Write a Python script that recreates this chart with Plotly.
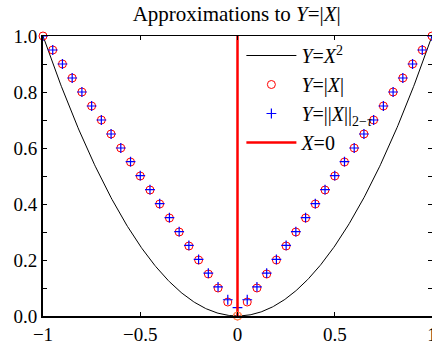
import plotly.graph_objects as go
import numpy as np

# sample grid on [-1, 1]
x_pts = [round(-1 + 0.05 * i, 2) for i in range(41)]
# Y = |X| at the grid points
y_abs = [abs(v) for v in x_pts]
# smoothed norm ||X||_{2-tau}, slightly above |X| near zero
y_norm_half = [0.030, 0.058, 0.104, 0.153, 0.202, 0.252, 0.301, 0.351, 0.401, 0.451,
               0.501, 0.551, 0.600, 0.650, 0.700, 0.750, 0.800, 0.850, 0.900, 0.950, 1.000]
y_norm = y_norm_half[:0:-1] + y_norm_half

# smooth parabola Y = X^2
x_curve = np.linspace(-1, 1, 401)
y_curve = x_curve ** 2

# vertical line X = 0
x_zero = [0, 0]
y_zero = [0, 1]

x_ticks = [-1, -0.5, 0, 0.5, 1]
x_tick_text = ["\u22121", "\u22120.5", "0", "0.5", "1"]
y_ticks = [round(0.1 * i, 1) for i in range(11)]
y_tick_text = [f"{v:.1f}" if i % 2 == 0 else "" for i, v in enumerate(y_ticks)]

FONT = "Liberation Serif, Times New Roman, serif"

fig = go.Figure()
fig.add_trace(go.Scatter(x=x_curve, y=y_curve, mode="lines",
                         line=dict(color="black", width=1),
                         name="<i>Y</i>=<i>X</i><sup>2</sup>"))
fig.add_trace(go.Scatter(x=x_pts, y=y_abs, mode="markers",
                         marker=dict(symbol="circle-open", size=8,
                                     line=dict(color="red", width=1), color="red"),
                         cliponaxis=False,
                         name="<i>Y</i>=|<i>X</i>|"))
fig.add_trace(go.Scatter(x=x_pts, y=y_norm, mode="markers",
                         marker=dict(symbol="cross-thin-open", size=7,
                                     line=dict(color="blue", width=1.2), color="blue"),
                         name="<i>Y</i>=||<i>X</i>||<sub>2\u2212<i>\u03c4</i></sub>"))
fig.add_trace(go.Scatter(x=x_zero, y=y_zero, mode="lines",
                         line=dict(color="red", width=2.5),
                         name="<i>X</i>=0"))
# keep the circle at the origin on top of the red line
fig.add_trace(go.Scatter(x=[0], y=[0], mode="markers",
                         marker=dict(symbol="circle-open", size=8,
                                     line=dict(color="red", width=1)),
                         cliponaxis=False, showlegend=False))

fig.update_layout(
    width=432, height=351,
    margin=dict(l=43, r=0, t=36, b=35, autoexpand=False),
    paper_bgcolor="white", plot_bgcolor="white",
    font=dict(family=FONT, size=19, color="black"),
    title=dict(text="Approximations to <i>Y</i>=|<i>X</i>|", x=0.548, xanchor="center",
               y=0.962, yanchor="middle", font=dict(family=FONT, size=21)),
    showlegend=True,
    legend=dict(x=0.51, y=1.0, xanchor="left", yanchor="top",
                bgcolor="rgba(0,0,0,0)", font=dict(family=FONT, size=20),
                tracegroupgap=0, itemwidth=50),
    xaxis=dict(range=[-1, 1], tickvals=x_ticks, ticktext=x_tick_text,
               ticks="inside", ticklen=4, tickcolor="black",
               ticklabeloverflow="allow", automargin=False,
               showline=True, linecolor="black", linewidth=2,
               showgrid=False, zeroline=False),
    yaxis=dict(range=[0, 1], tickvals=y_ticks, ticktext=y_tick_text,
               ticks="inside", ticklen=4, tickcolor="black",
               showline=True, linecolor="black", linewidth=2,
               showgrid=False, zeroline=False),
    xaxis2=dict(overlaying="x", side="top", matches="x", range=[-1, 1],
                tickvals=x_ticks, showticklabels=False,
                ticks="inside", ticklen=4, tickcolor="black",
                showline=True, linecolor="black", linewidth=1,
                showgrid=False, zeroline=False),
    yaxis2=dict(overlaying="y", side="right", matches="y", range=[0, 1],
                tickvals=y_ticks, showticklabels=False,
                ticks="inside", ticklen=4, tickcolor="black",
                showline=True, linecolor="black", linewidth=1,
                showgrid=False, zeroline=False),
)
# invisible trace to activate the mirrored top/right axes
fig.add_trace(go.Scatter(x=[-1], y=[0], xaxis="x2", yaxis="y2", mode="markers",
                         marker=dict(opacity=0), showlegend=False, hoverinfo="skip"))

fig.write_html("out.html")
